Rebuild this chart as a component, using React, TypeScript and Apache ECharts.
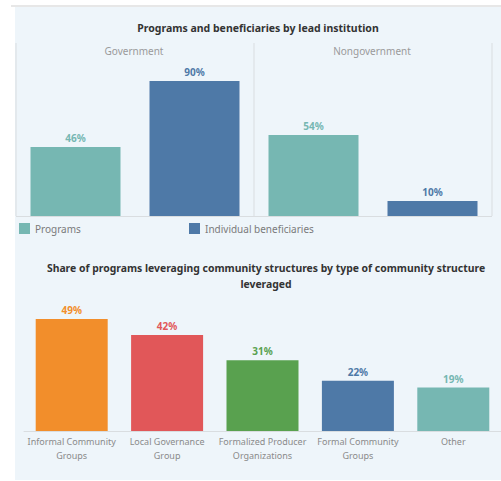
import React, { useEffect, useRef } from "react";
import * as echarts from "echarts";

const facets = ["Government", "Nongovernment"];
const measures = ["Programs", "Individual beneficiaries"];
const programsValues = [46, 54];
const beneficiariesValues = [90, 10];

const structureCategories = [
  "Informal Community\nGroups",
  "Local Governance\nGroup",
  "Formalized Producer\nOrganizations",
  "Formal Community\nGroups",
  "Other",
];
const structureValues = [49, 42, 31, 22, 19];
const structureColors = ["#f28e2b", "#e15759", "#59a14f", "#4e79a7", "#76b7b2"];

const TEAL = "#76b7b2";
const BLUE = "#4e79a7";
const FONT = "Noto Sans";
const BG = "#eef5fa";
const LINE = "#d9dde0";

export default function App() {
  const ref = useRef<HTMLDivElement>(null);
  useEffect(() => {
    const chart = echarts.init(ref.current!, null, { renderer: "svg" });
    const facetLeft = [16, 254];
    const facetWidth = 238;
    const grids: any[] = facets.map((_, i) => ({
      left: facetLeft[i],
      width: facetWidth,
      top: 66,
      height: 150,
      containLabel: false,
    }));
    grids.push({ left: 24, width: 477, top: 294, height: 137 });

    const xAxes: any[] = facets.map((_, i) => ({
      type: "category",
      gridIndex: i,
      data: measures,
      axisLine: { show: false },
      axisTick: { show: false },
      axisLabel: { show: false },
    }));
    xAxes.push({
      type: "category",
      gridIndex: 2,
      data: structureCategories,
      axisLine: { show: true, lineStyle: { color: LINE } },
      axisTick: { show: false },
      axisLabel: {
        color: "#8a8a8a",
        fontFamily: FONT,
        fontSize: 9,
        lineHeight: 14,
        margin: 3,
        interval: 0,
      },
    });
    const yAxes: any[] = facets.map((_, i) => ({
      type: "value",
      gridIndex: i,
      min: 0,
      max: 100,
      show: false,
      splitLine: { show: false },
    }));
    yAxes.push({ type: "value", gridIndex: 2, min: 0, max: 60, show: false, splitLine: { show: false } });

    const labelFor = (color: string) => ({
      show: true,
      position: "top",
      distance: 4,
      color,
      fontFamily: FONT,
      fontSize: 10,
      fontWeight: "bold",
      formatter: "{c}%",
    });

    const series: any[] = [];
    facets.forEach((_, i) => {
      series.push({
        name: "Programs",
        type: "bar",
        xAxisIndex: i,
        yAxisIndex: i,
        stack: "s" + i,
        barWidth: 90,
        itemStyle: { color: TEAL },
        label: labelFor(TEAL),
        data: [programsValues[i], "-"],
      });
      series.push({
        name: "Individual beneficiaries",
        type: "bar",
        xAxisIndex: i,
        yAxisIndex: i,
        stack: "s" + i,
        barWidth: 90,
        itemStyle: { color: BLUE },
        label: labelFor(BLUE),
        data: ["-", beneficiariesValues[i]],
      });
    });
    series.push({
      name: "Structures",
      type: "bar",
      xAxisIndex: 2,
      yAxisIndex: 2,
      barWidth: 72,
      data: structureValues.map((v, i) => ({
        value: v,
        itemStyle: { color: structureColors[i] },
        label: { color: structureColors[i] },
      })),
      label: {
        show: true,
        position: "top",
        distance: 4,
        fontFamily: FONT,
        fontSize: 10,
        fontWeight: "bold",
        formatter: "{c}%",
      },
    });

    const legendText = { color: "#7a7a7a", fontFamily: FONT, fontSize: 10 };
    chart.setOption({
      animation: false,
      backgroundColor: "#ffffff",
      title: [
        {
          text: "Programs and beneficiaries by lead institution",
          left: 253,
          top: 17,
          textAlign: "center",
          textStyle: { fontFamily: FONT, fontSize: 10.5, fontWeight: "bold", color: "#333333" },
        },
        {
          text: "Share of programs leveraging community structures by type of community structure\nleveraged",
          left: 261,
          top: 255,
          textAlign: "center",
          textStyle: { fontFamily: FONT, fontSize: 10.4, fontWeight: "bold", color: "#333333", lineHeight: 16 },
        },
      ],
      legend: [
        {
          data: ["Programs"],
          left: 14,
          top: 218,
          icon: "rect",
          itemWidth: 11,
          itemHeight: 11,
          itemGap: 5,
          textStyle: legendText,
          selectedMode: false,
        },
        {
          data: ["Individual beneficiaries"],
          left: 184,
          top: 218,
          icon: "rect",
          itemWidth: 11,
          itemHeight: 11,
          textStyle: legendText,
          selectedMode: false,
        },
      ],
      graphic: [
        { type: "rect", z: -10, shape: { x: 15, y: 7, width: 486, height: 473 }, style: { fill: BG } },
        { type: "line", z: -5, shape: { x1: 11, y1: 6, x2: 501, y2: 6 }, style: { stroke: "#cfcfcf", lineWidth: 1 } },
        { type: "line", z: -5, shape: { x1: 16, y1: 43, x2: 16, y2: 216 }, style: { stroke: LINE, lineWidth: 1 } },
        { type: "line", z: -5, shape: { x1: 254, y1: 43, x2: 254, y2: 216 }, style: { stroke: LINE, lineWidth: 1 } },
        { type: "line", z: -5, shape: { x1: 492, y1: 43, x2: 492, y2: 216 }, style: { stroke: LINE, lineWidth: 1 } },
        { type: "line", z: -5, shape: { x1: 16, y1: 216.5, x2: 492, y2: 216.5 }, style: { stroke: LINE, lineWidth: 1 } },
        {
          type: "text",
          x: 134,
          y: 51,
          style: { text: facets[0], fill: "#9a9a9a", font: `10px "${FONT}"`, textAlign: "center", textVerticalAlign: "middle" },
        },
        {
          type: "text",
          x: 372,
          y: 51,
          style: { text: facets[1], fill: "#9a9a9a", font: `10px "${FONT}"`, textAlign: "center", textVerticalAlign: "middle" },
        },
      ],
      grid: grids,
      xAxis: xAxes,
      yAxis: yAxes,
      series,
    });
    return () => chart.dispose();
  }, []);
  return (
    <div
      ref={ref}
      style={{ position: "fixed", left: 0, top: 0, width: 501, height: 481 }}
    />
  );
}
